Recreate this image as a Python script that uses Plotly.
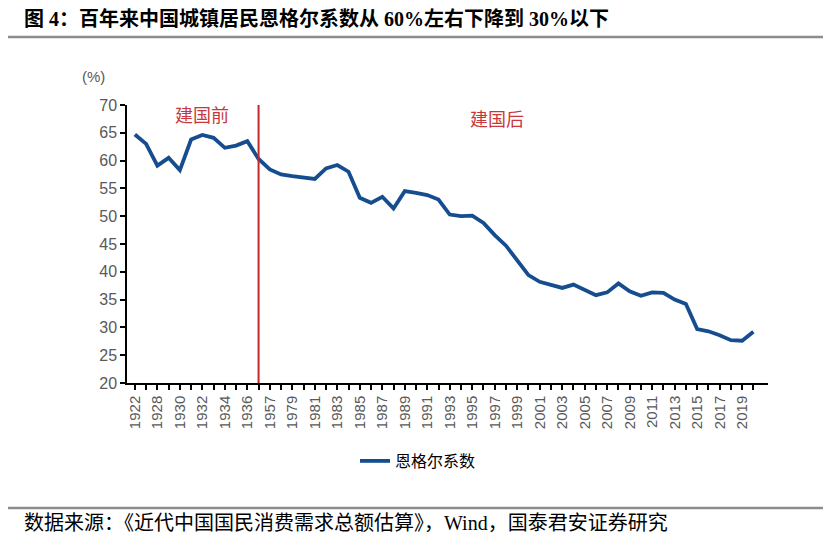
import plotly.graph_objects as go

categories = ["1922", "1927", "1928", "1929", "1930", "1931", "1932", "1933", "1934", "1935",
              "1936", "1954", "1957", "1978"] + [str(y) for y in range(1979, 2021)]

engel = [64.7, 63.0, 59.1, 60.5, 58.3, 63.8, 64.6, 64.1, 62.3, 62.7,
         63.5, 60.3, 58.4, 57.5, 57.2, 56.9, 56.7, 58.6, 59.2, 58.0,
         53.3, 52.4, 53.5, 51.4, 54.5, 54.2, 53.8, 53.0, 50.3, 50.0,
         50.1, 48.8, 46.6, 44.7, 42.1, 39.4, 38.2, 37.7, 37.1, 37.7,
         36.7, 35.8, 36.3, 37.9, 36.5, 35.7, 36.3, 36.2, 35.0, 34.2,
         29.7, 29.3, 28.6, 27.7, 27.6, 29.2]

tick_labels = [c if i % 2 == 0 else "" for i, c in enumerate(categories)]
split_category = "1954"
split_index = categories.index(split_category)

title_text = "图 4：百年来中国城镇居民恩格尔系数从 60%左右下降到 30%以下"
source_text = "数据来源：《近代中国国民消费需求总额估算》，Wind，国泰君安证券研究"
series_name = "恩格尔系数"

# page has an 8px body margin, so the figure is laid out in coordinates offset by 8px
OFF = 8
L, T, R, B = 127 - OFF, 105 - OFF, 768 - OFF, 383 - OFF
W, H = 831 - 2 * OFF, 548 - 2 * OFF
PW, PH = R - L, B - T


def px(xa):
    return (xa - OFF - L) / PW


def py(ya):
    return (B - (ya - OFF)) / PH


fig = go.Figure()
fig.add_trace(go.Scatter(
    x=list(range(len(categories))), y=engel, mode="lines", name=series_name,
    line=dict(color="#154d8e", width=3.8),
))

fig.add_shape(type="line", xref="x", yref="y", x0=split_index, x1=split_index,
              y0=20, y1=70, line=dict(color="#c0282d", width=2))

# title/source separators
fig.add_shape(type="line", xref="paper", yref="paper", x0=px(5), x1=px(828),
              y0=py(37), y1=py(37), line=dict(color="#8c8c8c", width=2.5))
fig.add_shape(type="line", xref="paper", yref="paper", x0=px(5), x1=px(828),
              y0=py(508), y1=py(508), line=dict(color="#8c8c8c", width=2.5))

serif = "Liberation Serif, Noto Sans CJK SC"
fig.add_annotation(xref="paper", yref="paper", x=px(22), y=py(19),
                   xanchor="left", yanchor="middle", showarrow=False,
                   text="<b>" + title_text + "</b>", font=dict(family=serif, size=20, color="#000000"))
fig.add_annotation(xref="paper", yref="paper", x=px(22), y=py(523),
                   xanchor="left", yanchor="middle", showarrow=False,
                   text=source_text, font=dict(family=serif, size=20, color="#000000"))
fig.add_annotation(xref="paper", yref="paper", x=px(93), y=py(76),
                   xanchor="center", yanchor="middle", showarrow=False,
                   text="(%)", font=dict(family="Liberation Sans, Arial", size=15, color="#595959"))
fig.add_annotation(xref="paper", yref="paper", x=px(202), y=py(116),
                   xanchor="center", yanchor="middle", showarrow=False,
                   text="建国前", font=dict(family=serif, size=18, color="#c8373c"))
fig.add_annotation(xref="paper", yref="paper", x=px(497), y=py(120),
                   xanchor="center", yanchor="middle", showarrow=False,
                   text="建国后", font=dict(family=serif, size=18, color="#c8373c"))

fig.update_layout(
    width=W, height=H,
    margin=dict(l=L, r=W - R, t=T, b=H - B),
    paper_bgcolor="white", plot_bgcolor="white",
    showlegend=True,
    legend=dict(orientation="h", x=px(418), xanchor="center", y=py(461), yanchor="middle",
                font=dict(family=serif, size=16, color="#000000")),
)
fig.update_xaxes(
    range=[-0.7, 56.3],
    tickmode="array", tickvals=list(range(len(categories))), ticktext=tick_labels,
    tickangle=-90, ticks="outside", ticklen=5, tickcolor="black", tickwidth=1.5,
    showline=True, linecolor="black", linewidth=1.5, showgrid=False, zeroline=False,
    tickfont=dict(family="Liberation Sans, Arial", size=15, color="#595959"),
)
fig.update_yaxes(
    range=[20, 70], dtick=5, ticks="outside", ticklen=5, tickcolor="black", tickwidth=1.5,
    showline=True, linecolor="black", linewidth=1.5, showgrid=False, zeroline=False,
    tickfont=dict(family="Liberation Sans, Arial", size=16, color="#595959"),
)

fig.write_html("out.html")
